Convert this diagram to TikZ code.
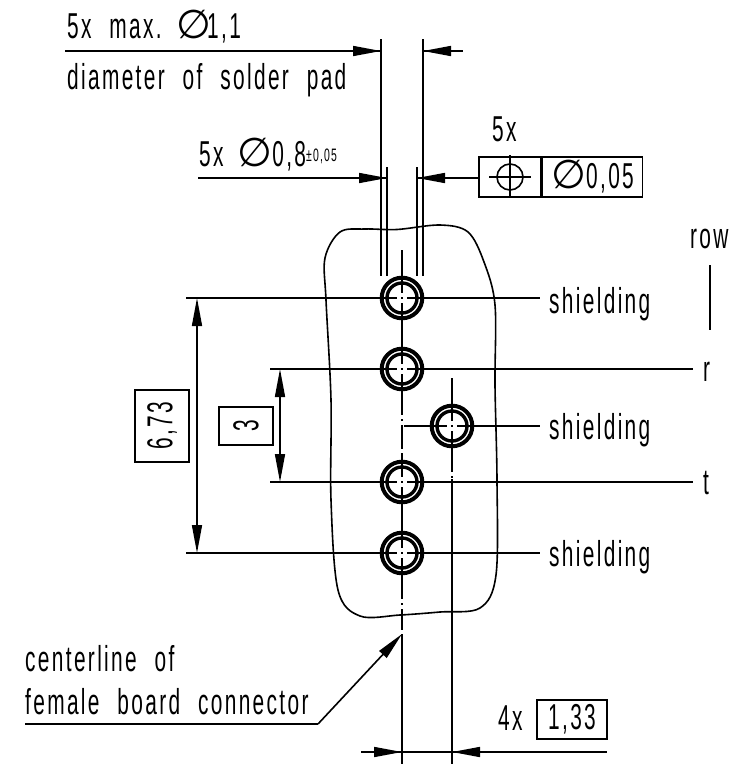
\documentclass[tikz,border=0pt]{standalone}
\usepackage{fontspec}
\setmainfont[FakeStretch=0.58,LetterSpace=6.5,WordSpace=2.2]{Liberation Sans}
\newfontfamily\dia{DejaVu Sans}
\usetikzlibrary{arrows.meta,positioning}
\tikzset{
  thin line/.style={line width=1.6pt},
  dimline/.style={thin line, {Triangle[length=28pt,width=10pt]}-{Triangle[length=28pt,width=10pt]}},
  dimtip/.style={thin line, -{Triangle[length=28pt,width=10pt]}},
  centerl/.style={thin line, dash pattern=on 24pt off 4pt on 2pt off 4pt},
  padmark/.style={thin line, dash pattern=on 22pt off 4pt on 2pt off 4pt on 22pt},
  padouter/.style={circle, draw, line width=4pt, minimum size=40.6pt, inner sep=0pt},
  padinner/.style={circle, draw, line width=3.4pt, minimum size=30pt, inner sep=0pt},
  lab/.style={anchor=base west, inner sep=0pt, font=\fontsize{36}{40}\selectfont},
  smalllab/.style={anchor=base west, inner sep=0pt, font=\fontsize{18}{20}\selectfont},
  valbox/.style={draw, thin line, inner sep=0pt, font=\fontsize{36}{40}\selectfont}
}
\newcommand{\dsym}{{\dia\fontsize{40}{40}\selectfont ∅}}
\begin{document}
\begin{tikzpicture}[x=1pt,y=-1pt]
  \useasboundingbox (0,0) rectangle (737,764);
  \draw[thin line] plot[smooth cycle, tension=0.55] coordinates {(325,258) (340,232) (365,229) (397,229.5) (440,225) (468,232) (484,262) (495,305) (495,385) (497,480) (496,575) (480,608) (440,612) (400,615) (360,616) (338,590) (331,500) (331,400) (326,300)};

  \foreach \name/\px/\py in {pa/402/298,pb/402/369,pc/452/426,pd/402/482,pe/402/553} {
    \node[padouter] (\name) at (\px,\py) {};
    \node[padinner] (\name i) at (\px,\py) {};
    \draw[padmark] (\px-27,\py) -- (\px+27,\py);
    \draw[padmark] (\px,\py-27) -- (\px,\py+27);
  }

  \coordinate (top-a) at (381,39);
  \coordinate (top-b) at (423,39);
  \coordinate (top-c) at (387,167);
  \coordinate (top-d) at (417,167);
  \coordinate (fcf-a) at (198,178);
  \coordinate (dim-a) at (65,51);
  \coordinate (dim-b) at (463,51);
  \coordinate (ext-a) at (186,298);
  \coordinate (ext-b) at (186,553);
  \coordinate (ext-c) at (270,369);
  \coordinate (ext-d) at (270,482);
  \coordinate (lead-a) at (25,724);
  \coordinate (lead-b) at (318,724);
  \coordinate (lead-c) at (402,634);
  \coordinate (base-a) at (402,764);
  \coordinate (base-b) at (452,764);

  \path[thin line]
  (top-a) edge (top-a |- pa.north)
  (top-b) edge (top-b |- pa.north)
  (top-c) edge (top-c |- pa.north)
  (top-d) edge (top-d |- pa.north)
  (ext-a) edge (375,298)
  (ext-b) edge (375,553)
  (ext-c) edge (375,369)
  (ext-d) edge (375,482)
  (429,298) edge (540,298)
  (429,369) edge (693,369)
  (429,482) edge (693,482)
  (429,553) edge (540,553)
  (479,426) edge (540,426)
  (dim-a) edge (381,51)
  (423,51) edge (dim-b)
  (fcf-a) edge (387,178)
  (417,178) edge (479,178)
  (lead-a) edge (lead-b)
  (lead-c) edge (base-a)
  (452,479) edge (base-b)
  (361,752) edge (402,752)
  (402,752) edge (452,752)
  (452,752) edge (607,752)
  (710,265) edge (710,330)
  ;
  \draw[centerl] (402,250) -- (pa.north);
  \draw[centerl] (pa.south) -- (pb.north);
  \draw[centerl] (pb.south) -- (pd.north);
  \draw[centerl] (pd.south) -- (pe.north);
  \draw[centerl] (pe.south) -- (402,630);
  \draw[centerl] (452,378) -- (pc.north);
  \draw[centerl] (pc.south) -- (452,479);
  \draw[thin line] (404,426) -- (425,426);

  \path[dimline]
  (197,298) edge (197,553)
  (280,369) edge (280,482)
  ;
  \path[dimtip]
  (353,51) edge (381,51)
  (451,51) edge (423,51)
  (359,178) edge (387,178)
  (445,178) edge (417,178)
  (374,752) edge (402,752)
  (480,752) edge (452,752)
  (lead-b) edge (lead-c)
  ;

  \node[lab] (maxdia) at (67,38) {5x max.\kern-6pt{} \dsym\kern-4pt 1,1};
  \node[lab] (padlab) at (67,89) {diameter of solder pad};
  \node[lab] (holelab) at (199,166) {5x \kern-4pt\dsym 0,8};
  \node[smalllab] (tollab) at (306,161) {±0,05};
  \node[lab] (fivex) at (492,141) {5x};
  \node[lab] (rowlab) at (690,248) {row};
  \node[lab] (rlab) at (703,381) {r};
  \node[lab] (tlab) at (703,494) {t};
  \node[lab] (shield-a) at (549,313) {shielding};
  \node[lab] (shield-b) at (549,439) {shielding};
  \node[lab] (shield-c) at (549,566) {shielding};
  \node[lab] (centerlab) at (25,671) {centerline of};
  \node[lab] (femalelab) at (25,714) {female board connector};
  \node[lab] (fourx) at (498,730) {4x};

  \node[valbox, rotate=90, minimum width=72pt, minimum height=54pt] (box-a) at (162,426) {6,73};
  \node[valbox, rotate=90, minimum width=38pt, minimum height=54pt] (box-b) at (246,426) {3};
  \node[valbox, minimum width=70pt, minimum height=39pt] (box-c) at (572,719.5) {1,33};
  \node[valbox, minimum width=62pt, minimum height=40pt] (fcf-l) at (510,177) {};
  \node[valbox, minimum width=100pt, minimum height=40pt, anchor=west] (fcf-r) at (fcf-l.east) {\dsym 0,05};
  \node[circle, draw, thin line, minimum size=26pt, inner sep=0pt] (fcf-s) at (fcf-l) {};
  \draw[thin line] (489,177) -- (531,177);
  \draw[thin line] (510,155) -- (510,197);
\end{tikzpicture}
\end{document}
